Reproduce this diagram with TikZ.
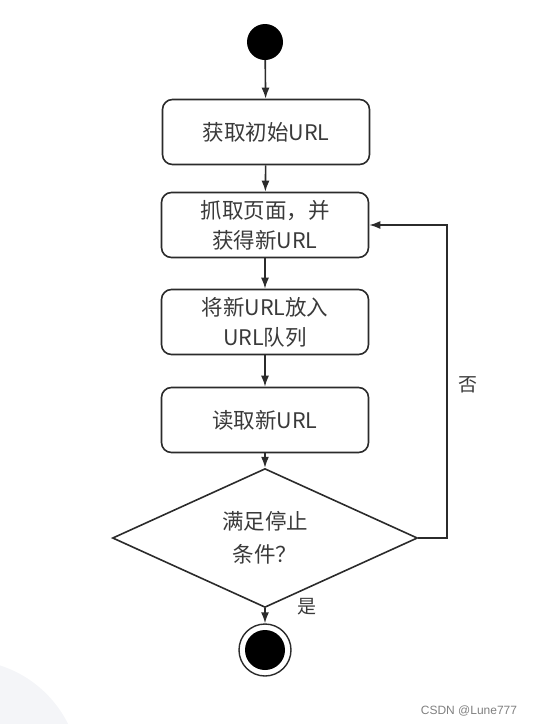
\documentclass[tikz,border=0pt]{standalone}
\usepackage{fontspec}
\newfontfamily\cjk{Noto Sans CJK SC}
\newfontfamily\wmfont{Liberation Sans}
\usetikzlibrary{
    shapes.geometric,
    arrows.meta
}
\definecolor{linegray}{HTML}{2B2B2B}
\definecolor{textgray}{HTML}{3A3A3A}
\definecolor{bggray}{HTML}{F4F5F8}
\tikzset {
    step box/.style = {
        draw = linegray, line width = 1.6pt, rounded corners = 10pt,
        minimum width = 207pt, minimum height = 65pt, inner sep = 0pt,
        align = center, text = textgray,
        font = \cjk\fontsize{21.5}{30}\selectfont
    },
    decision/.style = {
        diamond, draw = linegray, line width = 1.6pt,
        minimum width = 305pt, minimum height = 105pt, inner sep = 0pt,
        align = center, text = textgray,
        font = \cjk\fontsize{21.5}{33}\selectfont
    },
    start dot/.style = {circle, fill = black, minimum size = 36pt, inner sep = 0pt},
    end ring/.style = {circle, draw = linegray, line width = 1.4pt, minimum size = 52pt, inner sep = 0pt},
    end dot/.style = {circle, fill = black, minimum size = 40pt, inner sep = 0pt},
    flow/.style = {
        draw = linegray, line width = 1.6pt,
        arrows = {-{Latex[length = 11pt, width = 8pt]}}
    },
    branch/.style = {text = textgray, font = \cjk\fontsize{19}{20}\selectfont}
}
\begin{document}
\begin{tikzpicture}[x = 1pt, y = -1pt]
    \useasboundingbox (0, 0) rectangle (534, 724);
    % faint background
    \begin{scope}
        \clip (0, 0) rectangle (534, 724);
        \fill [bggray] (-35, 775) circle (115);
    \end{scope}
    % nodes
    \node (s) [start dot] at (265, 42) {};
    \node (a) [step box] at (266, 132) {获取初始URL};
    \node (b) [step box] at (265, 225) {抓取页面，并\\获得新URL};
    \node (c) [step box] at (265, 322) {将新URL放入\\URL队列};
    \node (d) [step box] at (265, 420) {读取新URL};
    \node (q) [decision] at (265, 538) {满足停止\\条件？};
    \node (e) [end ring] at (265, 650) {};
    \node (ei) [end dot] at (265, 650) {};
    \coordinate (r) at (447, 538);
    % connectors
    \draw [flow] (s) -- (a);
    \draw [flow] (a) -- (b);
    \draw [flow] (b) -- (c);
    \draw [flow] (c) -- (d);
    \draw [flow] (d) -- (q);
    \draw [flow] (q) -- (e);
    \draw [flow] (q.east) -- (r) |- (b.east);
    \node [branch] at (468, 385) {否};
    \node [branch] at (307, 607) {是};
    \node [text = gray, font = \wmfont\fontsize{12}{13}\selectfont] at (469, 711) {CSDN @Lune777};
\end{tikzpicture}
\end{document}
